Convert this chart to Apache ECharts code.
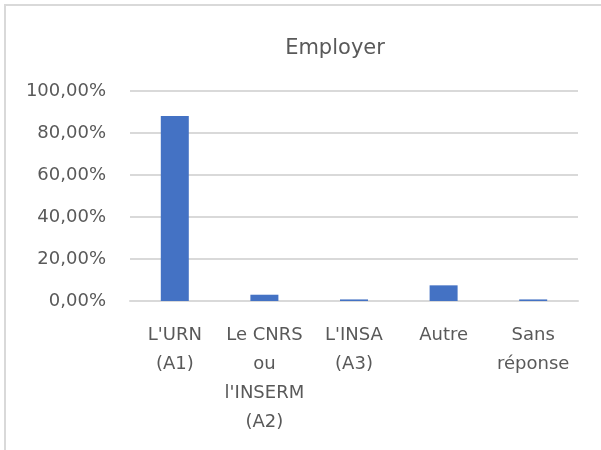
<!DOCTYPE html>
<html>
<head>
<meta charset="utf-8">
<script src="https://cdn.jsdelivr.net/npm/echarts@6/dist/echarts.min.js"></script>
<style>
html,body{margin:0;padding:0;background:#fff;}
#c{width:601px;height:450px;}
</style>
</head>
<body>
<div id="c"></div>
<script>
var categories = ["L'URN\n(A1)", "Le CNRS\nou\nl'INSERM\n(A2)", "L'INSA\n(A3)", "Autre", "Sans\nréponse"];
var values = [0.8806, 0.0299, 0.0075, 0.0746, 0.0075];
var titleText = "Employer";

var FONT = "DejaVu Sans";
var chart = echarts.init(document.getElementById('c'), null, {renderer: 'canvas'});
chart.setOption({
  backgroundColor: '#ffffff',
  animation: false,
  title: {
    text: titleText,
    left: 330, top: 33, textAlign: 'center',
    textStyle: {fontFamily: FONT, fontSize: 21, fontWeight: 'normal', color: '#595959'}
  },
  graphic: [{
    type: 'rect', shape: {x: 5, y: 5, width: 700, height: 600},
    style: {fill: 'none', stroke: '#d9d9d9', lineWidth: 2}, silent: true, z: -1
  }],
  grid: {left: 130, right: 23, top: 91, bottom: 149, containLabel: false},
  xAxis: {
    type: 'category', data: categories,
    axisLine: {show: true, lineStyle: {color: '#d9d9d9', width: 2}},
    axisTick: {show: false},
    axisLabel: {fontFamily: FONT, fontSize: 18, color: '#595959', margin: 20, lineHeight: 29, interval: 0}
  },
  yAxis: {
    type: 'value', min: 0, max: 1, interval: 0.2,
    axisLine: {show: false}, axisTick: {show: false},
    splitLine: {lineStyle: {color: '#d9d9d9', width: 2}},
    axisLabel: {fontFamily: FONT, fontSize: 18, color: '#595959', margin: 24,
      formatter: function (v) { return (v * 100).toFixed(2).replace('.', ',') + '%'; }}
  },
  series: [{
    type: 'bar', data: values, barWidth: 28,
    itemStyle: {color: '#4472c4'}
  }]
});
</script>
</body>
</html>
